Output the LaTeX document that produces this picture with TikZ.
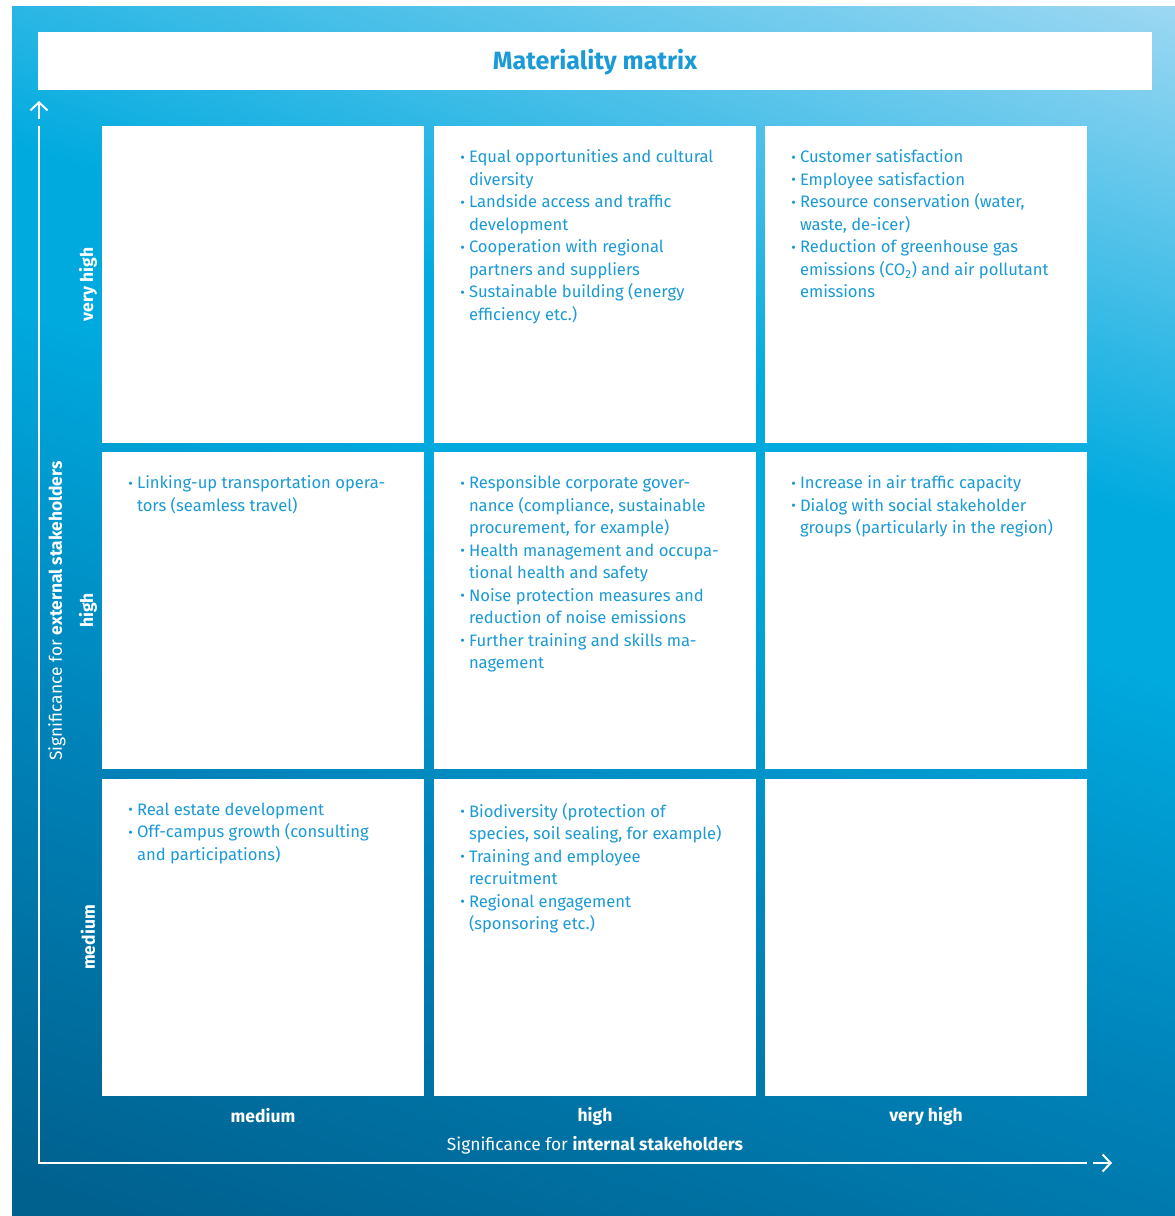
\documentclass[tikz,border=0pt]{standalone}
\usepackage{fontspec}
\setmainfont{Fira Sans}
\usetikzlibrary{arrows.meta}

\definecolor{matblue}{HTML}{1A9AD6}
\definecolor{bglight}{HTML}{A8DBF4}
\definecolor{bgmid}{HTML}{00AADF}
\definecolor{bgdeep}{HTML}{0082B8}
\definecolor{bgdark}{HTML}{00618F}

\pgfdeclareverticalshading{matbg}{100bp}{color(0bp)=(bgdark); color(20bp)=(bgdark);
  color(38bp)=(bgdeep); color(55bp)=(bgmid); color(61bp)=(bgmid); color(83bp)=(bglight);
  color(100bp)=(bglight)}

% small bullet hanging left of the item text
\newcommand{\itm}{\llap{\raisebox{0.5pt}{\fontsize{14}{14}\selectfont\textbullet}\hspace{4pt}}}

\begin{document}
\begin{tikzpicture}[x=1pt,y=-1pt,
  cell/.style={fill=white, minimum width=322pt, minimum height=317pt, inner sep=0pt},
  items/.style={anchor=north west, align=left, inner sep=0pt, text=matblue,
    font=\fontsize{16.6}{22.5}\selectfont},
  level/.style={text=white, inner sep=0pt, font=\fontsize{17.5}{20}\selectfont\bfseries},
  axistitle/.style={text=white, inner sep=0pt, font=\fontsize{17.4}{20}\selectfont},
  axis/.style={draw=white, line width=2pt},
  tip/.style={axis, -{Straight Barb[length=8pt,width=17pt,line width=2pt]}}]

\useasboundingbox (0,0) rectangle (1175,1216);
\fill[white] (0,0) rectangle (1175,1216);
\shade[shading=matbg, shading angle=-18] (12,6) rectangle (1175,1216);

% title bar
\node[fill=white, minimum width=1114pt, minimum height=58pt, inner sep=0pt] (title) at (595,61) {};
\node[text=matblue, font=\fontsize{25}{28}\selectfont\bfseries] (titletext) at ([yshift=-1pt]title) {Materiality matrix};

% matrix cells, row 1 = very high (external)
\node[cell] (c11) at (263,284.5) {};
\node[cell] (c12) at (595,284.5) {};
\node[cell] (c13) at (926,284.5) {};
\node[cell] (c21) at (263,610.5) {};
\node[cell] (c22) at (595,610.5) {};
\node[cell] (c23) at (926,610.5) {};
\node[cell] (c31) at (263,937.5) {};
\node[cell] (c32) at (595,937.5) {};
\node[cell] (c33) at (926,937.5) {};

% topics
\node[items] (t12) at ([xshift=35pt,yshift=-24pt]c12.north west) {%
\itm Equal opportunities and cultural\\ diversity\\
\itm Landside access and traffic\\ development\\
\itm Cooperation with regional\\ partners and suppliers\\
\itm Sustainable building (energy\\ efficiency etc.)};
\node[items] (t13) at ([xshift=35pt,yshift=-24pt]c13.north west) {%
\itm Customer satisfaction\\
\itm Employee satisfaction\\
\itm Resource conservation (water,\\ waste, de-icer)\\
\itm Reduction of greenhouse gas\\ emissions (CO\textsubscript{2}) and air pollutant\\ emissions};
\node[items] (t21) at ([xshift=35pt,yshift=-24pt]c21.north west) {%
\itm Linking-up transportation opera-\\tors (seamless travel)};
\node[items] (t22) at ([xshift=35pt,yshift=-24pt]c22.north west) {%
\itm Responsible corporate gover-\\nance (compliance, sustainable\\ procurement, for example)\\
\itm Health management and occupa-\\tional health and safety\\
\itm Noise protection measures and\\ reduction of noise emissions\\
\itm Further training and skills ma-\\nagement};
\node[items] (t23) at ([xshift=35pt,yshift=-24pt]c23.north west) {%
\itm Increase in air traffic capacity\\
\itm Dialog with social stakeholder\\ groups (particularly in the region)};
\node[items] (t31) at ([xshift=35pt,yshift=-24pt]c31.north west) {%
\itm Real estate development\\
\itm Off-campus growth (consulting\\ and participations)};
\node[items] (t32) at ([xshift=35pt,yshift=-24pt]c32.north west) {%
\itm Biodiversity (protection of\\ species, soil sealing, for example)\\
\itm Training and employee\\ recruitment\\
\itm Regional engagement\\ (sponsoring etc.)};

% levels
\node[level, rotate=90] (ext1) at (88,284.5) {very high};
\node[level, rotate=90] (ext2) at (88,610.5) {high};
\node[level, rotate=90] (ext3) at (88,937.5) {medium};
\node[level] (int1) at (263,1116) {medium};
\node[level] (int2) at (595,1116) {high};
\node[level] (int3) at (926,1116) {very high};

\node[axistitle, rotate=90] (exttitle) at (57,611) {Significance for \textbf{external stakeholders}};
\node[axistitle] (inttitle) at (595,1145) {Significance for \textbf{internal stakeholders}};

% axes
\coordinate (origin) at (39,1163);
\coordinate (ytop) at (39,126);
\coordinate (xend) at (1087,1163);
\coordinate (yfoot) at (39,119);
\coordinate (yhead) at (39,101);
\coordinate (xfoot) at (1093,1163);
\coordinate (xhead) at (1112,1163);
\draw[axis] (ytop) -- (origin) -- (xend);
\draw[tip] (yfoot) -- (yhead);
\draw[tip] (xfoot) -- (xhead);
\end{tikzpicture}
\end{document}
